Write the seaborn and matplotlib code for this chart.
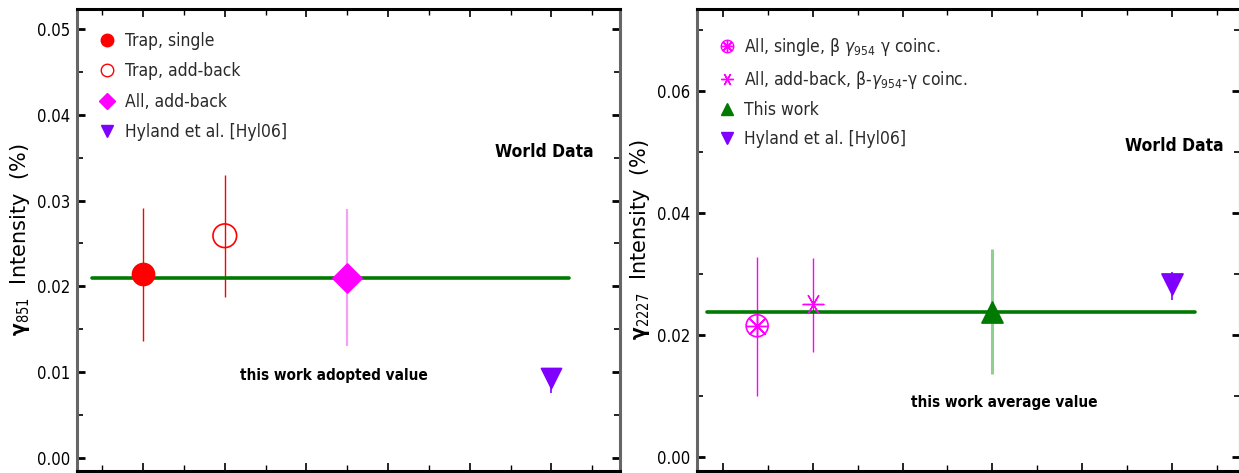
import numpy as np
import pandas as pd
import matplotlib
matplotlib.use("Agg")
import matplotlib.pyplot as plt
import seaborn as sns
from matplotlib.lines import Line2D
from matplotlib.legend_handler import HandlerTuple
from matplotlib.ticker import MultipleLocator, NullFormatter
from matplotlib import font_manager as fm

# ---------------- data ----------------
left_labels = ["Trap, single", "Trap, add-back", "All, add-back", "Hyland et al. [Hyl06]"]
left_x = [1.0, 2.0, 3.5, 6.0]
left_y = [0.0215, 0.0259, 0.0210, 0.0093]
left_lo = [0.0136, 0.0188, 0.0130, 0.0076]
left_hi = [0.0291, 0.0330, 0.0290, 0.0105]
left_adopted = 0.0210
left_line_x = [0.375, 6.22]
left_ylabel = r"$\mathbf{\gamma}_{851}$  Intensity  (%)"
left_note = "this work adopted value"

right_labels = [r"All, single, β $\gamma_{954}$ γ coinc.",
                r"All, add-back, β-$\gamma_{954}$-γ coinc.",
                "This work",
                "Hyland et al. [Hyl06]"]
right_x = [1.38, 2.0, 4.0, 6.0]
right_y = [0.0215, 0.0251, 0.0238, 0.0284]
right_lo = [0.0100, 0.0172, 0.0136, 0.0257]
right_hi = [0.0328, 0.0326, 0.0341, 0.0303]
right_average = 0.0238
right_line_x = [0.82, 6.26]
right_ylabel = r"$\mathbf{\gamma}_{2227}$  Intensity  (%)"
right_note = "this work average value"

# ---------------- style ----------------
sns.set_theme(style="white")
names = {f.name for f in fm.fontManager.ttflist}
cond = [f for f in fm.fontManager.ttflist if "ondensed" in f.fname or "Narrow" in f.fname]
if "Liberation Sans Narrow" in names:
    FAM = ["Liberation Sans Narrow", "DejaVu Sans"]
    STRETCH = "normal"
elif cond:
    FAM = [cond[0].name, "DejaVu Sans"]
    STRETCH = "condensed"
else:
    FAM = ["DejaVu Sans"]
    STRETCH = "condensed"
plt.rcParams["font.family"] = FAM
plt.rcParams["font.stretch"] = STRETCH
plt.rcParams["mathtext.fontset"] = "dejavusans"

RED = "#ff0000"
MAG = "#ff00ff"
PUR = "#7f00ff"
GRN = "#007a00"
TXT = "#2a2a2a"

W, H = 1239, 473
fig = plt.figure(figsize=(W / 100, H / 100), dpi=100)
ax1 = fig.add_axes([77 / W, 2 / H, 543 / W, 462 / H])
ax2 = fig.add_axes([697 / W, 2 / H, 543 / W, 462 / H])


def style_axes(ax, ylim, xlim, ymaj, ymin, ylabel):
    ax.set_xlim(*xlim)
    ax.set_ylim(*ylim)
    ax.xaxis.set_major_locator(MultipleLocator(1))
    ax.xaxis.set_minor_locator(MultipleLocator(0.5))
    ax.yaxis.set_major_locator(MultipleLocator(ymaj))
    ax.yaxis.set_minor_locator(MultipleLocator(ymin))
    ax.xaxis.set_major_formatter(NullFormatter())
    ax.yaxis.set_major_formatter(matplotlib.ticker.FormatStrFormatter("%.2f"))
    ax.tick_params(axis="both", which="both", direction="in",
                   top=True, bottom=True, left=True, right=True, color="black")
    ax.tick_params(axis="x", which="major", length=6, width=1.2)
    ax.tick_params(axis="x", which="minor", length=4, width=1.0)
    ax.tick_params(axis="y", which="major", length=6, width=2, labelsize=12,
                   pad=5, labelcolor="black")
    ax.tick_params(axis="y", which="minor", length=4, width=1.2)
    for s in ["top", "bottom"]:
        ax.spines[s].set_color("black")
        ax.spines[s].set_linewidth(2.2)
    for s in ["left", "right"]:
        ax.spines[s].set_color("#666666")
        ax.spines[s].set_linewidth(2.2)
    ax.set_xlabel("")
    ax.set_ylabel(ylabel, fontsize=15, family="DejaVu Sans", fontstretch="normal",
                  color="black")
    ax.yaxis.set_label_coords(-0.083, 0.5)


style_axes(ax1, (-0.00152, 0.05233), (0.19, 6.84), 0.01, 0.005, left_ylabel)
style_axes(ax2, (-0.0023, 0.0734), (0.71, 6.76), 0.02, 0.01, right_ylabel)

# ---------------- left panel ----------------
ldf = pd.DataFrame({"x": left_x, "y": left_y, "lo": left_lo, "hi": left_hi,
                    "label": left_labels})
lerr_colors = [RED, RED, "#f5a0f5", PUR]
lerr_widths = [1.0, 1.0, 1.6, 1.2]
for i, r in ldf.iterrows():
    ax1.vlines(r["x"], r["lo"], r["hi"], color=lerr_colors[i], lw=lerr_widths[i], zorder=2)

sns.lineplot(x=left_line_x, y=[left_adopted, left_adopted], color=GRN, lw=2.6,
             ax=ax1, zorder=3)

sns.scatterplot(x=[left_x[0]], y=[left_y[0]], marker="o", s=250, color=RED,
                edgecolor=RED, ax=ax1, zorder=4)
sns.scatterplot(x=[left_x[1]], y=[left_y[1]], marker="o", s=290, facecolor="none",
                edgecolor=RED, linewidth=1.2, ax=ax1, zorder=4)
sns.scatterplot(x=[left_x[2]], y=[left_y[2]], marker="D", s=220, color=MAG,
                edgecolor=MAG, ax=ax1, zorder=4)
sns.scatterplot(x=[left_x[3]], y=[left_y[3]], marker="v", s=210, color=PUR,
                edgecolor=PUR, ax=ax1, zorder=4)

lh = [
    Line2D([], [], ls="none", marker="o", ms=9, color=RED, mec=RED),
    Line2D([], [], ls="none", marker="o", ms=9, mfc="none", mec=RED, mew=1.0),
    Line2D([], [], ls="none", marker="D", ms=8.5, color=MAG, mec=MAG),
    Line2D([], [], ls="none", marker="v", ms=9, color=PUR, mec=PUR),
]
leg1 = ax1.legend(lh, left_labels, loc="upper left",
                  bbox_to_anchor=(0.0, 1.0 - 2 / 462),
                  frameon=False, fontsize=12.5, labelspacing=0.72,
                  handlelength=1.0, handletextpad=0.55, borderaxespad=0.9,
                  borderpad=0.3)
for t in leg1.get_texts():
    t.set_color(TXT)

ax1.text(6.52, 0.0357, "World Data", ha="right", va="center", fontsize=12.5,
         fontweight="bold", color="black")
ax1.text(3.33, 0.0096, left_note, ha="center", va="center", fontsize=11,
         fontweight="bold", color="black")

# ---------------- right panel ----------------
rdf = pd.DataFrame({"x": right_x, "y": right_y, "lo": right_lo, "hi": right_hi})
rerr_colors = [MAG, MAG, "#8fcf8f", PUR]
rerr_widths = [1.0, 1.0, 2.2, 1.2]
for i, r in rdf.iterrows():
    ax2.vlines(r["x"], r["lo"], r["hi"], color=rerr_colors[i], lw=rerr_widths[i], zorder=2)

sns.lineplot(x=right_line_x, y=[right_average, right_average], color=GRN, lw=2.6,
             ax=ax2, zorder=3)

sns.scatterplot(x=[right_x[0]], y=[right_y[0]], marker="o", s=250, facecolor="none",
                edgecolor=MAG, linewidth=1.2, ax=ax2, zorder=4)
sns.scatterplot(x=[right_x[0]], y=[right_y[0]], marker=(8, 2, 0), s=250, color=MAG,
                linewidth=1.0, ax=ax2, zorder=4)
sns.scatterplot(x=[right_x[1]], y=[right_y[1]], marker=(6, 2, 90), s=220, color=MAG,
                linewidth=1.0, ax=ax2, zorder=4)
sns.scatterplot(x=[right_x[2]], y=[right_y[2]], marker="^", s=230, color=GRN,
                edgecolor=GRN, ax=ax2, zorder=4)
sns.scatterplot(x=[right_x[3]], y=[right_y[3]], marker="v", s=230, color=PUR,
                edgecolor=PUR, ax=ax2, zorder=4)

rh = [
    (Line2D([], [], ls="none", marker="o", ms=9, mfc="none", mec=MAG, mew=1.0),
     Line2D([], [], ls="none", marker=(8, 2, 0), ms=9, color=MAG, mew=1.0)),
    Line2D([], [], ls="none", marker=(6, 2, 90), ms=9, color=MAG, mew=1.0),
    Line2D([], [], ls="none", marker="^", ms=9, color=GRN, mec=GRN),
    Line2D([], [], ls="none", marker="v", ms=9, color=PUR, mec=PUR),
]
leg2 = ax2.legend(rh, right_labels, loc="upper left",
                  bbox_to_anchor=(0.0, 1.0 - 6 / 462),
                  frameon=False, fontsize=12.5, labelspacing=0.62,
                  handlelength=1.0, handletextpad=0.5, borderaxespad=0.9,
                  borderpad=0.3, handler_map={tuple: HandlerTuple(ndivide=1)})
for t in leg2.get_texts():
    t.set_color(TXT)

ax2.text(6.58, 0.051, "World Data", ha="right", va="center", fontsize=12.5,
         fontweight="bold", color="black")
ax2.text(4.13, 0.0089, right_note, ha="center", va="center", fontsize=11,
         fontweight="bold", color="black")

fig.savefig("out.png", dpi=100)
